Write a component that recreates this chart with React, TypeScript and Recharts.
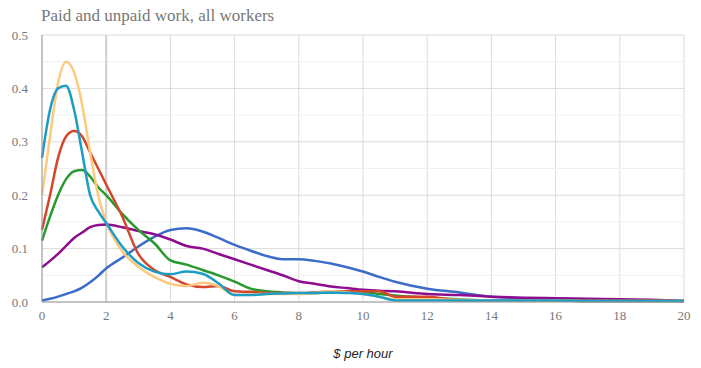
import { LineChart, Line, XAxis, YAxis, CartesianGrid, ReferenceLine } from "recharts";

// $ per hour
const wage = [0, 0.25, 0.5, 0.75, 1, 1.25, 1.5, 1.75, 2, 2.5, 3, 3.5, 4, 4.5, 5, 5.5, 6, 6.5, 7, 7.5, 8, 8.5, 9, 9.5, 10, 10.5, 11, 12, 13, 14, 15, 16, 17, 18, 19, 20];

const yellow = [0.2, 0.31, 0.41, 0.45, 0.43, 0.37, 0.28, 0.2, 0.15, 0.095, 0.066, 0.047, 0.034, 0.03, 0.036, 0.03, 0.013, 0.014, 0.015, 0.015, 0.015, 0.017, 0.02, 0.018, 0.015, 0.01, 0.005, 0.005, 0.004, 0.003, 0.003, 0.003, 0.002, 0.002, 0.002, 0.002];
const teal = [0.27, 0.36, 0.4, 0.405, 0.36, 0.28, 0.2, 0.17, 0.148, 0.104, 0.073, 0.057, 0.052, 0.057, 0.053, 0.035, 0.013, 0.013, 0.015, 0.016, 0.017, 0.017, 0.018, 0.017, 0.015, 0.01, 0.003, 0.003, 0.003, 0.003, 0.003, 0.003, 0.002, 0.002, 0.002, 0.002];
const red = [0.135, 0.2, 0.27, 0.31, 0.32, 0.31, 0.28, 0.25, 0.22, 0.16, 0.09, 0.06, 0.047, 0.033, 0.028, 0.03, 0.02, 0.019, 0.017, 0.017, 0.017, 0.018, 0.02, 0.02, 0.02, 0.02, 0.01, 0.01, 0.003, 0.003, 0.003, 0.003, 0.002, 0.002, 0.002, 0.002];
const green = [0.115, 0.16, 0.2, 0.23, 0.245, 0.247, 0.235, 0.215, 0.2, 0.165, 0.135, 0.11, 0.078, 0.07, 0.06, 0.05, 0.038, 0.025, 0.02, 0.018, 0.016, 0.017, 0.018, 0.018, 0.018, 0.015, 0.012, 0.008, 0.005, 0.003, 0.003, 0.003, 0.002, 0.002, 0.002, 0.002];
const purple = [0.065, 0.077, 0.09, 0.105, 0.12, 0.13, 0.14, 0.144, 0.145, 0.14, 0.133, 0.127, 0.117, 0.105, 0.1, 0.09, 0.08, 0.07, 0.06, 0.05, 0.039, 0.034, 0.029, 0.026, 0.023, 0.021, 0.02, 0.015, 0.013, 0.01, 0.008, 0.007, 0.006, 0.005, 0.004, 0.002];
const blue = [0.003, 0.006, 0.01, 0.015, 0.02, 0.027, 0.037, 0.049, 0.063, 0.083, 0.104, 0.122, 0.135, 0.138, 0.132, 0.12, 0.107, 0.096, 0.086, 0.08, 0.08, 0.077, 0.072, 0.065, 0.057, 0.047, 0.038, 0.025, 0.018, 0.01, 0.007, 0.006, 0.005, 0.004, 0.003, 0.002];

const xTicks = [0, 2, 4, 6, 8, 10, 12, 14, 16, 18, 20];
const yTicks = [0, 0.1, 0.2, 0.3, 0.4, 0.5];
const yMinor = [0.05, 0.15, 0.25, 0.35, 0.45];

const data = wage.map((w, i) => ({
  w,
  yellow: yellow[i],
  teal: teal[i],
  red: red[i],
  green: green[i],
  purple: purple[i],
  blue: blue[i],
}));

const series = [
  { key: "blue", color: "#3b6cc7" },
  { key: "purple", color: "#8e0c8e" },
  { key: "green", color: "#28992c" },
  { key: "red", color: "#d4472a" },
  { key: "yellow", color: "#fdc97f" },
  { key: "teal", color: "#1b9dc4" },
];

const SERIF = "Liberation Serif, Times New Roman, DejaVu Serif, serif";

export default function App() {
  return (
    <div style={{ position: "absolute", left: 0, top: 0, width: 701, height: 368, background: "#fff" }}>
      <div
        style={{
          position: "absolute",
          left: 41,
          top: 6,
          fontFamily: SERIF,
          fontSize: 17,
          color: "#777",
        }}
      >
        Paid and unpaid work, all workers
      </div>
      <LineChart
        width={701}
        height={368}
        data={data}
        margin={{ top: 35, right: 17, left: 2, bottom: 36 }}
      >
        <CartesianGrid stroke="#dcdcdc" />
        {yMinor.map((v) => (
          <ReferenceLine key={v} y={v} stroke="#efefef" />
        ))}
        <ReferenceLine x={2} stroke="#d0d0d0" strokeWidth={2} />
        <XAxis
          dataKey="w"
          type="number"
          domain={[0, 20]}
          ticks={xTicks}
          tickLine={false}
          tickMargin={3}
          stroke="#999"
          tick={{ fill: "#777", fontFamily: SERIF, fontSize: 13 }}
        />
        <YAxis
          width={40}
          domain={[0, 0.5]}
          ticks={yTicks}
          tickLine={false}
          tickMargin={8}
          stroke="#999"
          tickFormatter={(v: number) => v.toFixed(1)}
          tick={{ fill: "#777", fontFamily: SERIF, fontSize: 13 }}
        />
        {series.map((s) => (
          <Line
            key={s.key}
            type="monotone"
            dataKey={s.key}
            stroke={s.color}
            strokeWidth={2.5}
            dot={false}
            isAnimationActive={false}
          />
        ))}
      </LineChart>
      <div
        style={{
          position: "absolute",
          left: 0,
          width: 726,
          top: 346,
          textAlign: "center",
          fontFamily: "Liberation Sans, Arial, sans-serif",
          fontStyle: "italic",
          fontSize: 13,
          color: "#222",
        }}
      >
        $ per hour
      </div>
    </div>
  );
}
